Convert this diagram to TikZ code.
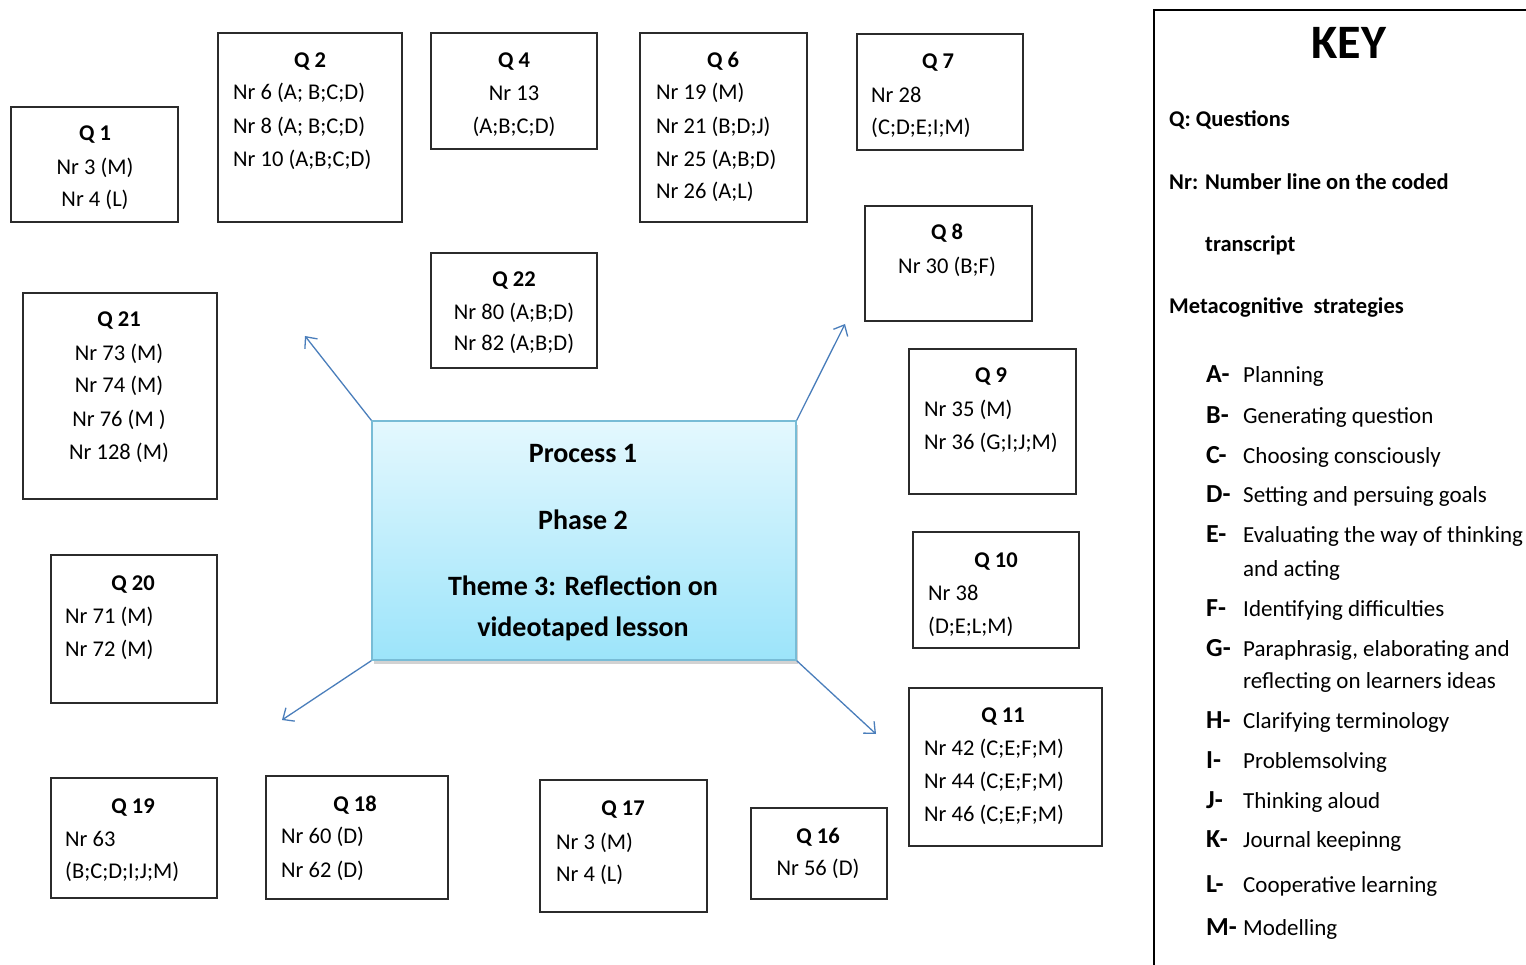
\documentclass[tikz,border=0pt]{standalone}
\usepackage{fontspec}
\setmainfont{Carlito}
\usetikzlibrary{arrows.meta,shadows}
\definecolor{spokeblue}{HTML}{4A7EBB}
\definecolor{hubtop}{HTML}{E4F8FE}
\definecolor{hubbot}{HTML}{9CE4FA}
\definecolor{hubedge}{HTML}{78BCD6}
\definecolor{frame}{HTML}{2B2B2B}
\tikzset{
  qbox/.style={draw=frame, line width=1.4pt, rectangle, inner sep=0pt},
  ttl/.style={font=\bfseries\fontsize{22.5}{27}\selectfont, anchor=base, inner sep=0pt},
  lc/.style={font=\fontsize{22.5}{27}\selectfont, anchor=base, inner sep=0pt},
  ll/.style={font=\fontsize{22.5}{27}\selectfont, anchor=base west, inner sep=0pt},
  hubtxt/.style={font=\bfseries\fontsize{28}{32}\selectfont, anchor=base, inner sep=0pt},
  spoke/.style={draw=spokeblue, line width=1.3pt, -{Straight Barb[length=9pt,width=16pt,line width=1.3pt]}},
  keyhead/.style={font=\bfseries\fontsize{22.5}{27}\selectfont, anchor=base west, inner sep=0pt},
  keylet/.style={font=\bfseries\fontsize{26}{30}\selectfont, anchor=base west, inner sep=0pt},
  keytxt/.style={font=\fontsize{23}{27}\selectfont, anchor=base west, inner sep=0pt},
}
\newcommand\qframe[5]{\node[qbox, minimum width=#4pt, minimum height=#5pt] (#1) at (#2,#3) {};}
\begin{document}
\begin{tikzpicture}[x=1pt,y=-1pt]
\useasboundingbox (0,0) rectangle (1526,965);
\fill[white] (0,0) rectangle (1526,965);

% question boxes: name, centre x, centre y, width, height
\qframe{q1}{94.5}{164.5}{167}{115}
\qframe{q2}{310}{127.5}{184}{189}
\qframe{q4}{514}{91}{166}{116}
\qframe{q6}{723.5}{127.5}{167}{189}
\qframe{q7}{940}{92}{166}{116}
\qframe{q8}{948.5}{263.5}{167}{115}
\qframe{q9}{992.5}{421.5}{167}{145}
\qframe{q10}{996}{590}{166}{116}
\qframe{q11}{1005.5}{767}{193}{158}
\qframe{q16}{819}{853.5}{136}{91}
\qframe{q17}{623.5}{846}{167}{132}
\qframe{q18}{357}{837.5}{182}{123}
\qframe{q19}{134}{838}{166}{120}
\qframe{q20}{134}{629}{166}{148}
\qframe{q21}{120}{396}{194}{206}
\qframe{q22}{514}{310.5}{166}{115}

% Q 1
\node[ttl] (q1t) at (95,141) {Q 1};
\node[lc] (q1a) at (95,175) {Nr 3 (M)};
\node[lc] (q1b) at (95,207) {Nr 4 (L)};
% Q 2
\node[ttl] (q2t) at (310,68) {Q 2};
\node[ll] (q2a) at (233,100) {Nr 6 (A; B;C;D)};
\node[ll] (q2b) at (233,134) {Nr 8 (A; B;C;D)};
\node[ll] (q2c) at (233,167) {Nr 10 (A;B;C;D)};
% Q 4
\node[ttl] (q4t) at (514,68) {Q 4};
\node[lc] (q4a) at (514,101) {Nr 13};
\node[lc] (q4b) at (514,134) {(A;B;C;D)};
% Q 6
\node[ttl] (q6t) at (723,68) {Q 6};
\node[ll] (q6a) at (656,100) {Nr 19 (M)};
\node[ll] (q6b) at (656,134) {Nr 21 (B;D;J)};
\node[ll] (q6c) at (656,167) {Nr 25 (A;B;D)};
\node[ll] (q6d) at (656,199) {Nr 26 (A;L)};
% Q 7
\node[ttl] (q7t) at (938,69) {Q 7};
\node[ll] (q7a) at (871,103) {Nr 28};
\node[ll] (q7b) at (871,135) {(C;D;E;I;M)};
% Q 8
\node[ttl] (q8t) at (947,240) {Q 8};
\node[lc] (q8a) at (947,274) {Nr 30 (B;F)};
% Q 9
\node[ttl] (q9t) at (991,383) {Q 9};
\node[ll] (q9a) at (924,417) {Nr 35 (M)};
\node[ll] (q9b) at (924,449) {Nr 36 (G;I;J;M)};
% Q 10
\node[ttl] (q10t) at (996,567) {Q 10};
\node[ll] (q10a) at (928,600) {Nr 38};
\node[ll] (q10b) at (928,633) {(D;E;L;M)};
% Q 11
\node[ttl] (q11t) at (1003,722) {Q 11};
\node[ll] (q11a) at (924,755) {Nr 42 (C;E;F;M)};
\node[ll] (q11b) at (924,788) {Nr 44 (C;E;F;M)};
\node[ll] (q11c) at (924,821) {Nr 46 (C;E;F;M)};
% Q 16
\node[ttl] (q16t) at (818,843) {Q 16};
\node[lc] (q16a) at (818,875) {Nr 56 (D)};
% Q 17
\node[ttl] (q17t) at (623,815) {Q 17};
\node[ll] (q17a) at (556,849) {Nr 3 (M)};
\node[ll] (q17b) at (556,881) {Nr 4 (L)};
% Q 18
\node[ttl] (q18t) at (355,811) {Q 18};
\node[ll] (q18a) at (281,843) {Nr 60 (D)};
\node[ll] (q18b) at (281,877) {Nr 62 (D)};
% Q 19
\node[ttl] (q19t) at (133,813) {Q 19};
\node[ll] (q19a) at (65,846) {Nr 63};
\node[ll] (q19b) at (65,878) {(B;C;D;I;J;M)};
% Q 20
\node[ttl] (q20t) at (133,590) {Q 20};
\node[ll] (q20a) at (65,623) {Nr 71 (M)};
\node[ll] (q20b) at (65,656) {Nr 72 (M)};
% Q 21
\node[ttl] (q21t) at (119,327) {Q 21};
\node[lc] (q21a) at (119,361) {Nr 73 (M)};
\node[lc] (q21b) at (119,393) {Nr 74 (M)};
\node[lc] (q21c) at (119,426) {Nr 76 (M )};
\node[lc] (q21d) at (119,459) {Nr 128 (M)};
% Q 22
\node[ttl] (q22t) at (514,287) {Q 22};
\node[lc] (q22a) at (514,320) {Nr 80 (A;B;D)};
\node[lc] (q22b) at (514,351) {Nr 82 (A;B;D)};

% central theme box
\node[rectangle, draw=hubedge, line width=1.4pt, top color=hubtop, bottom color=hubbot,
      minimum width=424pt, minimum height=239pt, inner sep=0pt,
      drop shadow={opacity=0.35, shadow xshift=2pt, shadow yshift=-4pt}]
      (hub) at (584,540.5) {};
\node[hubtxt] (hub1) at (583,462) {Process 1};
\node[hubtxt] (hub2) at (583,529) {Phase 2};
\node[hubtxt] (hub3) at (583,595) {Theme 3: Reflection on};
\node[hubtxt] (hub4) at (583,636) {videotaped lesson};

% spokes from the corners of the theme box
\coordinate (tipNW) at (305,336);
\coordinate (tipNE) at (845,324);
\coordinate (tipSW) at (282,720);
\coordinate (tipSE) at (876,734);
\draw[spoke] (hub.north west) -- (tipNW);
\draw[spoke] (hub.north east) -- (tipNE);
\draw[spoke] (hub.south west) -- (tipSW);
\draw[spoke] (hub.south east) -- (tipSE);

% key panel
\draw[line width=1.5pt, black] (1154,965) -- (1154,10) -- (1527,10);
\node[font=\bfseries\fontsize{48}{52}\selectfont, anchor=base, inner sep=0pt] (keyt) at (1349,59) {KEY};
\node[keyhead] (kq) at (1169,127) {Q: Questions};
\node[keyhead] (knr) at (1169,190) {Nr: Number line on the coded};
\node[keyhead] (ktr) at (1205,252) {transcript};
\node[keyhead] (kmc) at (1169,314) {Metacognitive\ \ strategies};

\node[keylet] (lA) at (1206,383) {A-};  \node[keytxt] (tA) at (1243,383) {Planning};
\node[keylet] (lB) at (1206,423) {B-};  \node[keytxt] (tB) at (1243,423) {Generating question};
\node[keylet] (lC) at (1206,463) {C-};  \node[keytxt] (tC) at (1243,463) {Choosing consciously};
\node[keylet] (lD) at (1206,502) {D-};  \node[keytxt] (tD) at (1243,502) {Setting and persuing goals};
\node[keylet] (lE) at (1206,542) {E-};  \node[keytxt] (tE) at (1243,542) {Evaluating the way of thinking};
\node[keytxt] (tE2) at (1243,576) {and acting};
\node[keylet] (lF) at (1206,616) {F-};  \node[keytxt] (tF) at (1243,616) {Identifying difficulties};
\node[keylet] (lG) at (1206,656) {G-};  \node[keytxt] (tG) at (1243,656) {Paraphrasig, elaborating and};
\node[keytxt] (tG2) at (1243,688) {reflecting on learners ideas};
\node[keylet] (lH) at (1206,728) {H-};  \node[keytxt] (tH) at (1243,728) {Clarifying terminology};
\node[keylet] (lI) at (1206,768) {I-};  \node[keytxt] (tI) at (1243,768) {Problemsolving};
\node[keylet] (lJ) at (1206,808) {J-};  \node[keytxt] (tJ) at (1243,808) {Thinking aloud};
\node[keylet] (lK) at (1206,847) {K-};  \node[keytxt] (tK) at (1243,847) {Journal keepinng};
\node[keylet] (lL) at (1206,892) {L-};  \node[keytxt] (tL) at (1243,892) {Cooperative learning};
\node[keylet] (lM) at (1206,935) {M-};  \node[keytxt] (tM) at (1243,935) {Modelling};
\end{tikzpicture}
\end{document}
